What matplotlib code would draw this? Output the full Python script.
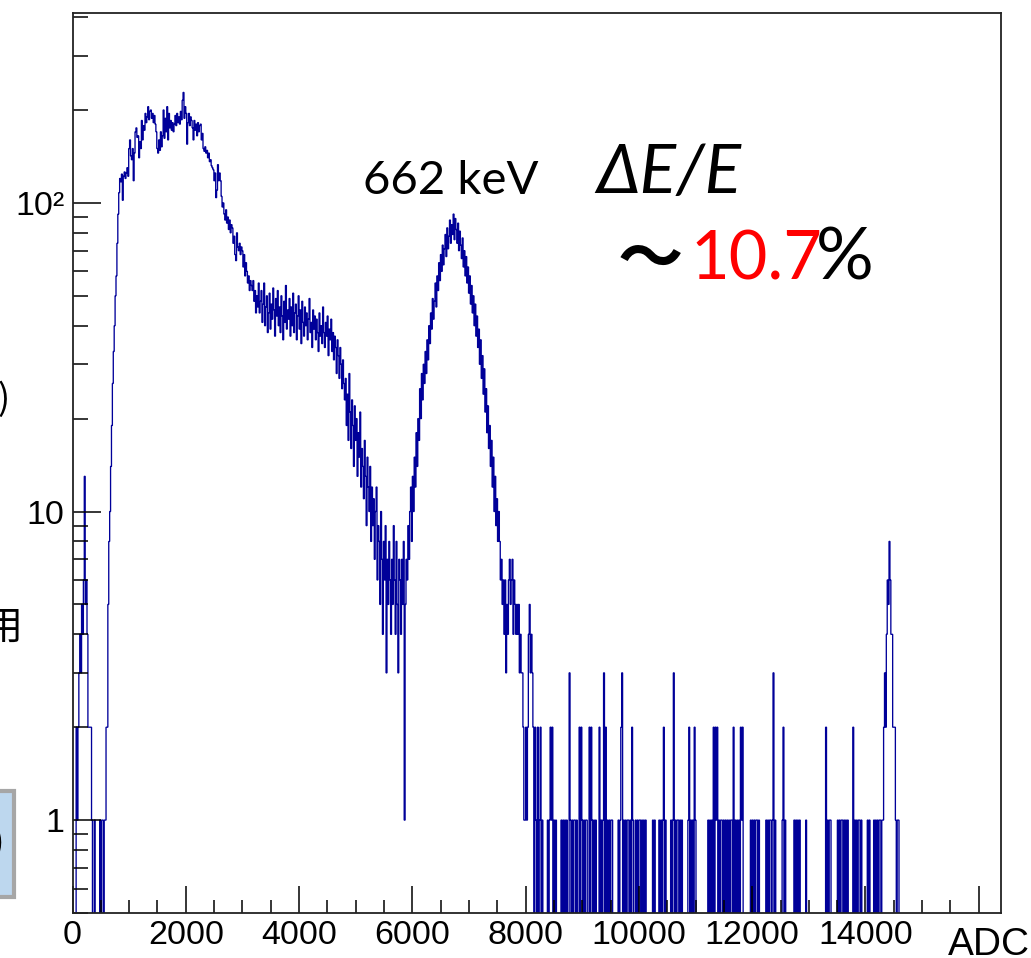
import numpy as np
import matplotlib
matplotlib.use("Agg")
import matplotlib.pyplot as plt
from matplotlib.patches import Rectangle
from matplotlib.ticker import MultipleLocator, LogLocator, NullFormatter

# ADC spectrum (Cs-137), 1024 bins of 16 ADC channels, 0..16384
n_bins = 1024
adc_max = 16384

# bins 0-40: pedestal / noise region
counts_low = [
    0, 0, 0, 0, 2, 1, 2, 3, 4, 3,
    5, 4, 6, 13, 5, 6, 4, 2, 2, 2,
    2, 1, 0, 0, 1, 0, 0, 0, 0, 0,
    1, 0, 1, 1, 0, 1, 1, 2, 2, 5,
    8,
]
# bins 41-60: threshold edge
counts_rise = [
    10, 14, 19, 26, 33, 40, 50, 58, 74, 92,
    108, 120, 117, 124, 102, 122, 126, 120, 125, 130,
]
# bins 61-207: low energy hump
counts_compton = [
    122, 150, 160, 142, 138, 150, 118, 145, 170, 175,
    163, 165, 140, 158, 150, 185, 160, 178, 172, 195,
    182, 190, 205, 186, 198, 200, 188, 195, 182, 192,
    180, 170, 150, 145, 160, 148, 170, 152, 165, 200,
    162, 188, 170, 205, 160, 195, 175, 185, 172, 182,
    170, 180, 192, 178, 195, 182, 190, 180, 198, 186,
    215, 228, 188, 205, 195, 155, 182, 195, 178, 190,
    185, 175, 160, 185, 172, 180, 165, 182, 170, 178,
    180, 160, 168, 150, 147, 152, 145, 148, 140, 145,
    136, 138, 132, 130, 128, 118, 125, 104, 110, 133,
    118, 125, 118, 105, 97, 100, 92, 88, 95, 86,
    90, 82, 88, 80, 85, 83, 74, 78, 68, 65,
    80, 72, 70, 74, 68, 72, 70, 62, 68, 58,
    64, 60, 55, 58, 52, 56, 54, 52, 56, 48,
    52, 44, 50, 46, 55, 44, 48,
]
# bins 208-300: Compton continuum
counts_continuum = [
    52, 41, 47, 55, 40, 46, 50, 38, 44, 51,
    39, 47, 42, 53, 45, 37, 49, 43, 52, 40,
    46, 38, 50, 43, 36, 48, 41, 54, 39, 45,
    42, 49, 37, 46, 40, 51, 38, 44, 47, 36,
    43, 50, 39, 45, 35, 48, 41, 37, 46, 40,
    44, 36, 42, 49, 38, 41, 34, 45, 39, 43,
    36, 42, 38, 33, 44, 37, 40, 35, 46, 38,
    34, 41, 37, 43, 32, 39, 36, 42, 33, 38,
    31, 37, 34, 28, 36, 32, 27, 34, 30, 25,
    31, 26, 23,
]
# bins 301-372: Compton edge and valley
counts_valley = [
    27, 19, 24, 17, 28, 21, 16, 23, 19, 14,
    22, 17, 20, 13, 18, 15, 21, 12, 16, 14,
    11, 17, 13, 9, 15, 12, 10, 14, 8, 12,
    9, 11, 7, 10, 12, 6, 9, 8, 5, 10,
    7, 4, 8, 6, 9, 3, 7, 5, 8, 6,
    4, 7, 5, 9, 6, 4, 8, 5, 3, 7,
    6, 4, 7, 5, 8, 1, 5, 7, 6, 9,
    7, 10,
]
# bins 373-470: 662 keV photopeak
counts_peak = [
    12, 8, 13, 10, 15, 12, 18, 14, 20, 17,
    25, 20, 28, 23, 30, 26, 33, 28, 36, 31,
    40, 35, 44, 39, 49, 42, 48, 55, 46, 58,
    52, 64, 56, 68, 60, 73, 63, 71, 79, 67,
    83, 71, 78, 88, 74, 85, 79, 92, 76, 89,
    82, 74, 86, 70, 81, 73, 66, 77, 62, 70,
    58, 67, 55, 62, 51, 58, 47, 54, 44, 50,
    40, 47, 37, 43, 34, 39, 30, 36, 27, 32,
    24, 29, 21, 25, 18, 22, 16, 19, 14, 17,
    12, 15, 10, 13, 9, 11, 8, 10,
]
# bins 471-520: high side of the peak
counts_falloff = [
    8, 6, 7, 5, 6, 4, 6, 3, 5, 4,
    6, 7, 5, 6, 7, 4, 6, 5, 4, 5,
    4, 5, 3, 4, 3, 3, 2, 1, 1, 2,
    1, 2, 4, 5, 3, 4, 3, 2, 0, 2,
    1, 0, 2, 0, 1, 2, 0, 1, 0, 0,
]
# bins 521-920: background tail and the bump near 14400
counts_tail = [
    0, 0, 0, 1, 0, 1, 2, 1, 2, 0,
    1, 0, 1, 0, 0, 0, 0, 0, 1, 0,
    1, 0, 1, 0, 1, 0, 0, 3, 1, 0,
    1, 0, 1, 1, 0, 1, 0, 0, 2, 0,
    2, 1, 0, 1, 0, 1, 1, 0, 0, 2,
    0, 2, 1, 0, 1, 0, 1, 0, 0, 0,
    2, 0, 1, 0, 1, 3, 0, 2, 0, 1,
    0, 1, 0, 1, 1, 0, 0, 0, 0, 0,
    0, 1, 0, 1, 2, 3, 0, 1, 0, 1,
    0, 1, 1, 0, 1, 0, 2, 1, 0, 0,
    1, 0, 1, 0, 1, 1, 0, 1, 0, 1,
    0, 1, 0, 0, 0, 0, 0, 0, 0, 1,
    0, 1, 0, 0, 0, 0, 1, 0, 1, 0,
    1, 2, 0, 1, 0, 0, 0, 0, 0, 1,
    0, 1, 3, 0, 1, 0, 1, 1, 0, 1,
    0, 1, 0, 0, 0, 0, 0, 0, 1, 2,
    0, 1, 0, 1, 0, 2, 1, 0, 0, 0,
    0, 0, 0, 0, 0, 0, 0, 0, 0, 0,
    1, 0, 1, 0, 1, 0, 2, 0, 2, 1,
    2, 0, 1, 0, 1, 1, 0, 1, 0, 1,
    0, 1, 0, 1, 0, 1, 1, 0, 2, 0,
    1, 0, 1, 0, 1, 0, 2, 1, 2, 0,
    0, 0, 0, 0, 0, 0, 0, 1, 0, 1,
    0, 1, 0, 1, 1, 0, 1, 0, 0, 0,
    0, 0, 0, 0, 1, 0, 1, 0, 1, 1,
    0, 1, 3, 0, 1, 0, 0, 0, 0, 0,
    0, 0, 1, 2, 0, 1, 0, 0, 0, 0,
    0, 0, 0, 0, 0, 1, 0, 1, 0, 1,
    0, 1, 0, 0, 0, 0, 0, 0, 1, 0,
    0, 0, 0, 0, 0, 0, 0, 0, 0, 0,
    0, 0, 0, 0, 0, 0, 0, 0, 0, 0,
    2, 0, 1, 0, 1, 1, 0, 0, 0, 0,
    0, 0, 0, 1, 0, 1, 0, 1, 1, 0,
    1, 0, 1, 0, 1, 0, 0, 0, 0, 0,
    2, 0, 1, 0, 1, 0, 1, 1, 0, 1,
    0, 0, 0, 0, 0, 0, 1, 0, 1, 0,
    0, 0, 0, 1, 0, 1, 0, 1, 0, 1,
    1, 0, 1, 1, 2, 3, 2, 4, 6, 5,
    8, 6, 4, 4, 2, 2, 2, 1, 0, 1,
    1, 0, 0, 0, 0, 0, 0, 0, 0, 0,
]

counts = np.array(counts_low + counts_rise + counts_compton + counts_continuum
                  + counts_valley + counts_peak + counts_falloff + counts_tail, dtype=float)
counts = np.concatenate([counts, np.zeros(n_bins - len(counts))])
edges = np.linspace(0, adc_max, n_bins + 1)

x_ticks = [0, 2000, 4000, 6000, 8000, 10000, 12000, 14000, 16000]
x_labels = ["0", "2000", "4000", "6000", "8000", "10000", "12000", "14000", ""]
y_ticks = [1, 10, 100]
y_labels = ["1", "10", "10\u00b2"]

W, H = 1031, 958
def fx(px):
    return px / W
def fy(py):
    return 1 - py / H

fig = plt.figure(figsize=(W / 100, H / 100), dpi=100)
ax = fig.add_axes([fx(72.5), fy(913), (1000.5 - 72.5) / W, (913 - 12.5) / H])

# empty bins drop to the bottom of the frame like ROOT does on log scale
shown = np.where(counts > 0, counts, 1e-3)
ax.stairs(shown, edges, color="#000099", linewidth=0.95)

ax.set_yscale("log")
ax.set_xlim(0, adc_max)
ax.set_ylim(0.5, 414)

ax.set_xticks(x_ticks, x_labels)
ax.xaxis.set_minor_locator(MultipleLocator(500))
ax.set_yticks(y_ticks, y_labels)
ax.yaxis.set_minor_locator(LogLocator(base=10, subs=np.arange(2, 10)))
ax.yaxis.set_minor_formatter(NullFormatter())

ax.tick_params(axis="x", which="major", direction="in", length=19.5, width=1.1, pad=5)
ax.tick_params(axis="x", which="minor", direction="in", length=9.5, width=1.1)
ax.tick_params(axis="y", which="major", direction="in", length=20, width=1.1, pad=6)
ax.tick_params(axis="y", which="minor", direction="in", length=11, width=1.1)
for lab in ax.get_xticklabels() + ax.get_yticklabels():
    lab.set_fontfamily("Liberation Sans")
    lab.set_fontsize(24.5)
for sp in ax.spines.values():
    sp.set_linewidth(1.3)
    sp.set_color("#222222")

fig.text(fx(948), fy(955), "ADC", fontfamily="Liberation Sans", fontsize=28,
         ha="left", va="baseline")

# annotations
fig.text(fx(363), fy(194), "662 keV", fontfamily="Lato", fontsize=34,
         ha="left", va="baseline")
fig.text(fx(596), fy(193), "\u0394E/E", fontfamily="Lato", fontstyle="italic",
         fontsize=49, ha="left", va="baseline")
fig.text(fx(618), fy(280), "\u301c", fontfamily="Noto Sans CJK JP", fontweight="bold",
         fontsize=47, ha="left", va="baseline")
fig.text(fx(690), fy(280), "10.7", fontfamily="Lato", fontsize=48, color="#ff0000",
         ha="left", va="baseline")
fig.text(fx(816), fy(280), "%", fontfamily="Lato", fontsize=52,
         ha="left", va="baseline")

# pieces of the neighbouring slide text on the left edge
fig.text(fx(10), fy(410), ")", fontfamily="Noto Sans CJK JP", fontsize=26,
         ha="right", va="baseline")
fig.text(fx(23), fy(638), "\u7528", fontfamily="Noto Sans CJK JP", fontsize=28,
         ha="right", va="baseline")
box = Rectangle((fx(-60), fy(896.5)), fx(74), (896.5 - 790.5) / H,
                transform=fig.transFigure, facecolor="#bdd7ee", edgecolor="#a6a6a6",
                linewidth=3, clip_on=False)
fig.patches.append(box)
fig.text(fx(4), fy(853), ")", fontfamily="Noto Sans CJK JP", fontsize=24,
         ha="right", va="baseline")

fig.savefig("out.png", dpi=100)
